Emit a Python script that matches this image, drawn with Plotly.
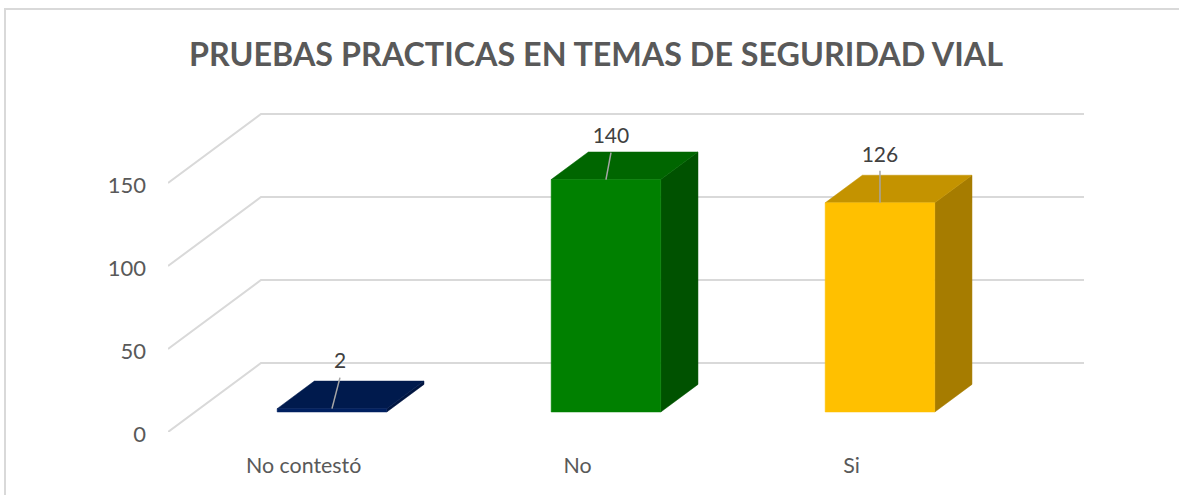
import plotly.graph_objects as go

categories = ["No contestó", "No", "Si"]
values = [2, 140, 126]
front_colors = ["#002060", "#008000", "#FFC000"]
top_colors = ["#001A4D", "#006600", "#C49300"]
side_colors = ["#001540", "#005200", "#A67C00"]
y_ticks = [0, 50, 100, 150]
title_text = "PRUEBAS PRACTICAS EN TEMAS DE SEGURIDAD VIAL"

# plot-area pixel box and scale
L, R, T, B = 168, 1084, 113, 432
PX_PER_UNIT = 83 / 50
PX_PER_CAT = 274
WALL_DX, WALL_DY = 93, 69          # full floor depth in pixels

x_min = -0.5
x_max = x_min + (R - L) / PX_PER_CAT
y_max = (B - T) / PX_PER_UNIT


def project(cat, val, depth):
    """Oblique projection: depth 0 = front of floor, 1 = back wall."""
    return (cat + depth * WALL_DX / PX_PER_CAT,
            val + depth * WALL_DY / PX_PER_UNIT)


def poly(points, color):
    xs = [p[0] for p in points] + [points[0][0]]
    ys = [p[1] for p in points] + [points[0][1]]
    return go.Scatter(x=xs, y=ys, mode="lines", fill="toself", fillcolor=color,
                      line=dict(color=color, width=0.5), hoverinfo="skip",
                      showlegend=False)


fig = go.Figure()

GRID = "#D9D9D9"
for t in y_ticks:
    a = project(x_min, t, 0)
    b = project(x_min, t, 1)
    c = (x_max, b[1])
    fig.add_trace(go.Scatter(x=[a[0], b[0], c[0]], y=[a[1], b[1], c[1]], mode="lines",
                             line=dict(color=GRID, width=2), hoverinfo="skip",
                             showlegend=False))

HALF = 0.2
D0, D1 = 0.29, 0.69
# leader-line rise and lean in pixels, from the centre of each bar's front top edge
stem_dx_px = [8, 5, 0]
stem_dy_px = [31, 27, 32]
LABEL_GAP_PX = 4

for i, v in enumerate(values):
    x0, x1 = i - HALF, i + HALF
    fl, fr = project(x0, v, D0), project(x1, v, D0)
    bl, br = project(x0, v, D1), project(x1, v, D1)
    f0l, f0r = project(x0, 0, D0), project(x1, 0, D0)
    b0r = project(x1, 0, D1)
    fig.add_trace(poly([f0r, b0r, br, fr], side_colors[i]))
    fig.add_trace(poly([fl, bl, br, fr], top_colors[i]))
    fig.add_trace(poly([f0l, f0r, fr, fl], front_colors[i]))

    # leader line + value label
    c = project(i, v, D0)
    end = (c[0] + stem_dx_px[i] / PX_PER_CAT, c[1] + stem_dy_px[i] / PX_PER_UNIT)
    fig.add_trace(go.Scatter(
        x=[c[0], end[0]], y=[c[1], end[1]],
        mode="lines", line=dict(color="#A6A6A6", width=1.5),
        hoverinfo="skip", showlegend=False))
    fig.add_trace(go.Scatter(
        x=[end[0]], y=[end[1] + LABEL_GAP_PX / PX_PER_UNIT],
        mode="text", text=[str(v)], textposition="top center",
        textfont=dict(family="Lato", size=21, color="#404040"),
        hoverinfo="skip", showlegend=False))

fig.add_shape(type="rect", xref="paper", yref="paper",
              x0=(5 - L) / (R - L), x1=(1200 - L) / (R - L),
              y0=(B - 520) / (B - T), y1=(B - 9) / (B - T),
              line=dict(color="#D9D9D9", width=2), fillcolor="rgba(0,0,0,0)", layer="below")

fig.update_layout(
    width=1179, height=495,
    autosize=False,
    margin=dict(l=L, r=1179 - R, t=T, b=495 - B, pad=0),
    paper_bgcolor="white", plot_bgcolor="rgba(0,0,0,0)",
    font=dict(family="Lato", color="#595959"),
    showlegend=False,
    title=dict(text=f"<b>{title_text}</b>", x=596 / 1179, xanchor="center",
               y=1 - 55 / 495, yanchor="middle",
               font=dict(family="Lato", size=32.3, color="#595959")),
    xaxis=dict(range=[x_min, x_max], tickmode="array", tickvals=[-0.005, 0.995, 1.995],
               ticktext=categories, showgrid=False, zeroline=False, showline=False,
               ticks="", ticklabelstandoff=19,
               tickfont=dict(family="Lato", size=21.4, color="#595959")),
    yaxis=dict(range=[0, y_max], tickmode="array", tickvals=y_ticks, showgrid=False,
               zeroline=False, showline=False, ticks="", ticklabelstandoff=21,
               ticklabelshift=2,
               tickfont=dict(family="Lato", size=22, color="#595959")),
)

fig.write_html("out.html", config={"displayModeBar": False},
               post_script="document.body.style.margin='0';document.body.style.overflow='hidden';")
